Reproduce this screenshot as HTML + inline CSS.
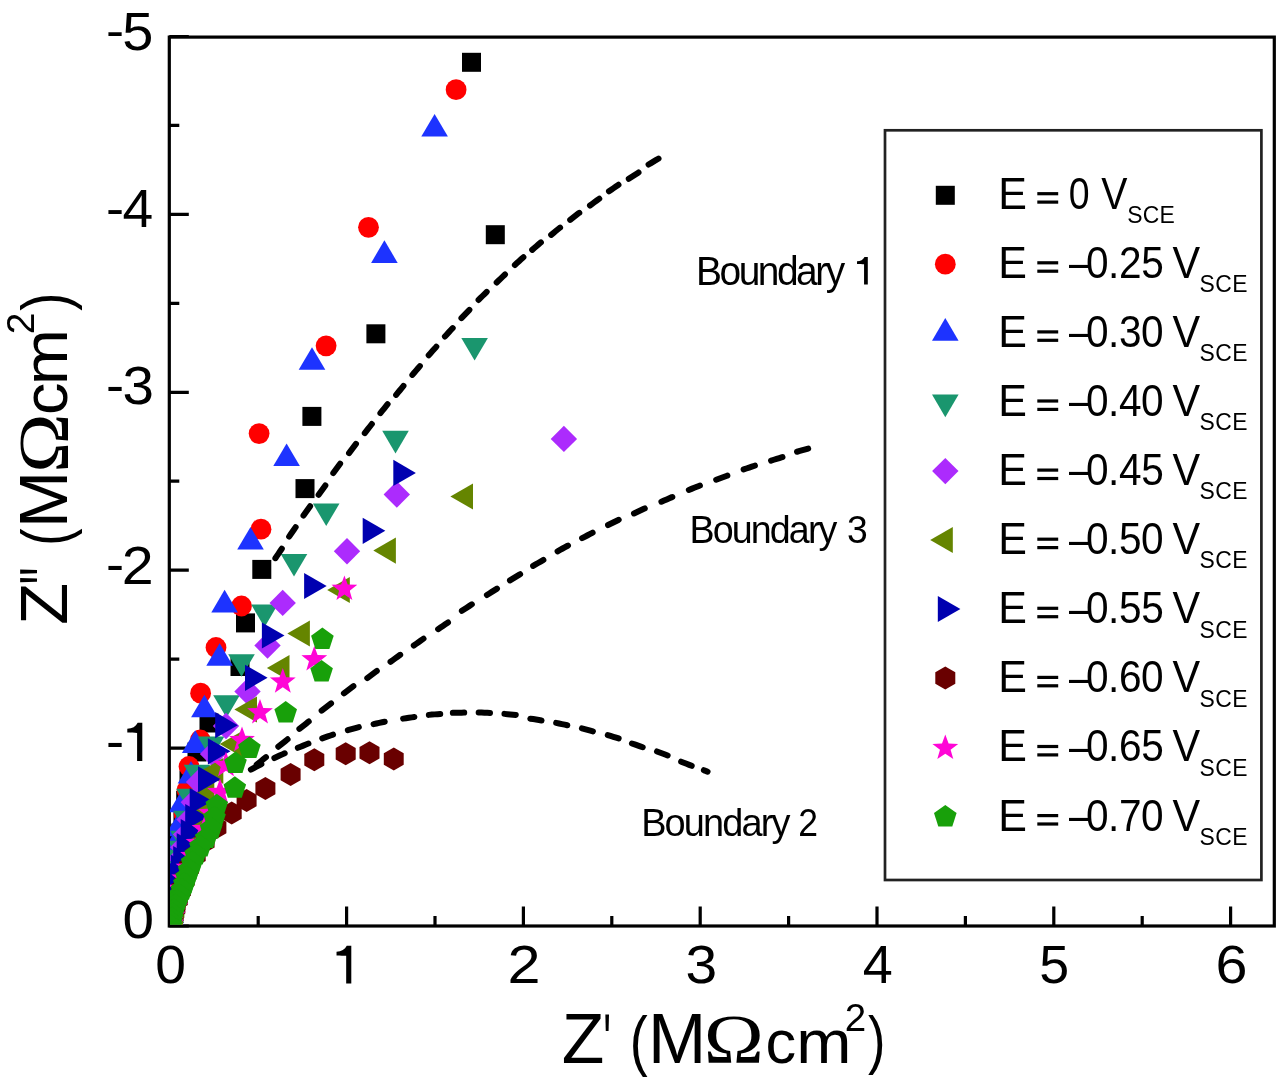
<!DOCTYPE html><html><head><meta charset="utf-8"><style>html,body{margin:0;padding:0;background:#fff;overflow:hidden;}svg{display:block;filter:blur(0.6px)}text{font-family:"Liberation Sans", sans-serif;fill:#000}</style></head><body>
<svg width="1280" height="1084" viewBox="0 0 1280 1084">
<rect width="1280" height="1084" fill="#fff"/>
<defs><clipPath id="pc"><rect x="170" y="37" width="1104" height="887.6"/></clipPath></defs>
<rect x="169.3" y="37.1" width="1105" height="888.9" fill="none" stroke="#000" stroke-width="3.2"/>
<path d="M169.8,926 V906.5 M346.6,926 V906.5 M523.4,926 V906.5 M700.2,926 V906.5 M877.0,926 V906.5 M1053.8,926 V906.5 M1230.6,926 V906.5 M258.2,926 V916.0 M435.0,926 V916.0 M611.8,926 V916.0 M788.6,926 V916.0 M965.4,926 V916.0 M1142.2,926 V916.0 M169.3,926.0 H188.8 M169.3,748.1 H188.8 M169.3,570.2 H188.8 M169.3,392.3 H188.8 M169.3,214.4 H188.8 M169.3,36.5 H188.8 M169.3,837.0 H179.3 M169.3,659.1 H179.3 M169.3,481.2 H179.3 M169.3,303.4 H179.3 M169.3,125.4 H179.3" stroke="#000" stroke-width="3.2" fill="none"/>
<g clip-path="url(#pc)">
<rect x="462.0" y="52.8" width="19.0" height="19.0" fill="#000000"/>
<rect x="485.8" y="225.2" width="19.0" height="19.0" fill="#000000"/>
<rect x="366.4" y="324.3" width="19.0" height="19.0" fill="#000000"/>
<rect x="302.4" y="406.9" width="19.0" height="19.0" fill="#000000"/>
<rect x="295.5" y="479.1" width="19.0" height="19.0" fill="#000000"/>
<rect x="252.3" y="559.9" width="19.0" height="19.0" fill="#000000"/>
<rect x="236.0" y="613.4" width="19.0" height="19.0" fill="#000000"/>
<rect x="230.5" y="657.0" width="19.0" height="19.0" fill="#000000"/>
<rect x="199.5" y="713.5" width="19.0" height="19.0" fill="#000000"/>
<rect x="187.5" y="742.5" width="19.0" height="19.0" fill="#000000"/>
<rect x="179.5" y="770.5" width="19.0" height="19.0" fill="#000000"/>
<rect x="176.2" y="790.9" width="19.0" height="19.0" fill="#000000"/>
<rect x="173.5" y="808.5" width="19.0" height="19.0" fill="#000000"/>
<rect x="171.3" y="823.6" width="19.0" height="19.0" fill="#000000"/>
<rect x="169.4" y="836.6" width="19.0" height="19.0" fill="#000000"/>
<rect x="167.9" y="847.8" width="19.0" height="19.0" fill="#000000"/>
<rect x="166.6" y="857.4" width="19.0" height="19.0" fill="#000000"/>
<rect x="165.6" y="865.7" width="19.0" height="19.0" fill="#000000"/>
<rect x="164.7" y="872.8" width="19.0" height="19.0" fill="#000000"/>
<rect x="164.0" y="878.9" width="19.0" height="19.0" fill="#000000"/>
<rect x="163.4" y="884.2" width="19.0" height="19.0" fill="#000000"/>
<rect x="162.9" y="888.7" width="19.0" height="19.0" fill="#000000"/>
<rect x="162.5" y="892.6" width="19.0" height="19.0" fill="#000000"/>
<rect x="162.1" y="895.9" width="19.0" height="19.0" fill="#000000"/>
<rect x="161.9" y="898.8" width="19.0" height="19.0" fill="#000000"/>
<rect x="161.6" y="901.3" width="19.0" height="19.0" fill="#000000"/>
<rect x="161.4" y="903.4" width="19.0" height="19.0" fill="#000000"/>
<rect x="161.3" y="905.3" width="19.0" height="19.0" fill="#000000"/>
<rect x="161.1" y="906.8" width="19.0" height="19.0" fill="#000000"/>
<rect x="161.0" y="908.2" width="19.0" height="19.0" fill="#000000"/>
<rect x="160.9" y="910.4" width="19.0" height="19.0" fill="#000000"/>
<rect x="160.7" y="912.0" width="19.0" height="19.0" fill="#000000"/>
<rect x="160.6" y="913.6" width="19.0" height="19.0" fill="#000000"/>
<rect x="160.6" y="914.9" width="19.0" height="19.0" fill="#000000"/>
<rect x="160.5" y="916.1" width="19.0" height="19.0" fill="#000000"/>
<circle cx="456.1" cy="89.7" r="10.4" fill="#ff0000"/>
<circle cx="368.5" cy="227.3" r="10.4" fill="#ff0000"/>
<circle cx="326.1" cy="345.8" r="10.4" fill="#ff0000"/>
<circle cx="259.1" cy="433.6" r="10.4" fill="#ff0000"/>
<circle cx="261.0" cy="529.2" r="10.4" fill="#ff0000"/>
<circle cx="241.5" cy="606.0" r="10.4" fill="#ff0000"/>
<circle cx="216.0" cy="647.5" r="10.4" fill="#ff0000"/>
<circle cx="200.6" cy="693.2" r="10.4" fill="#ff0000"/>
<circle cx="200.3" cy="740.0" r="10.4" fill="#ff0000"/>
<circle cx="189.0" cy="766.5" r="10.4" fill="#ff0000"/>
<circle cx="187.0" cy="790.0" r="10.4" fill="#ff0000"/>
<circle cx="184.0" cy="814.0" r="10.4" fill="#ff0000"/>
<circle cx="182.5" cy="834.0" r="10.4" fill="#ff0000"/>
<circle cx="180.5" cy="846.0" r="10.4" fill="#ff0000"/>
<circle cx="178.8" cy="856.4" r="10.4" fill="#ff0000"/>
<circle cx="177.4" cy="865.4" r="10.4" fill="#ff0000"/>
<circle cx="176.2" cy="873.3" r="10.4" fill="#ff0000"/>
<circle cx="175.2" cy="880.1" r="10.4" fill="#ff0000"/>
<circle cx="174.4" cy="886.1" r="10.4" fill="#ff0000"/>
<circle cx="173.7" cy="891.3" r="10.4" fill="#ff0000"/>
<circle cx="173.1" cy="895.8" r="10.4" fill="#ff0000"/>
<circle cx="172.6" cy="899.7" r="10.4" fill="#ff0000"/>
<circle cx="172.2" cy="903.1" r="10.4" fill="#ff0000"/>
<circle cx="171.8" cy="906.1" r="10.4" fill="#ff0000"/>
<circle cx="171.5" cy="908.7" r="10.4" fill="#ff0000"/>
<circle cx="171.3" cy="910.9" r="10.4" fill="#ff0000"/>
<circle cx="171.1" cy="912.9" r="10.4" fill="#ff0000"/>
<circle cx="170.9" cy="914.6" r="10.4" fill="#ff0000"/>
<circle cx="170.8" cy="916.1" r="10.4" fill="#ff0000"/>
<circle cx="170.6" cy="917.4" r="10.4" fill="#ff0000"/>
<circle cx="170.5" cy="919.5" r="10.4" fill="#ff0000"/>
<circle cx="170.3" cy="921.1" r="10.4" fill="#ff0000"/>
<circle cx="170.2" cy="922.3" r="10.4" fill="#ff0000"/>
<circle cx="170.1" cy="923.5" r="10.4" fill="#ff0000"/>
<circle cx="170.1" cy="924.8" r="10.4" fill="#ff0000"/>
<polygon points="434.6,113.9 447.9,136.5 421.3,136.5" fill="#1d33ff"/>
<polygon points="384.4,240.3 397.7,262.9 371.1,262.9" fill="#1d33ff"/>
<polygon points="312.0,347.2 325.3,369.8 298.7,369.8" fill="#1d33ff"/>
<polygon points="286.6,443.5 299.9,466.1 273.3,466.1" fill="#1d33ff"/>
<polygon points="250.5,527.0 263.8,549.6 237.2,549.6" fill="#1d33ff"/>
<polygon points="224.6,589.8 237.9,612.4 211.3,612.4" fill="#1d33ff"/>
<polygon points="219.6,643.2 232.9,665.8 206.3,665.8" fill="#1d33ff"/>
<polygon points="204.4,694.7 217.7,717.3 191.1,717.3" fill="#1d33ff"/>
<polygon points="195.2,730.3 208.5,752.9 181.9,752.9" fill="#1d33ff"/>
<polygon points="191.0,761.0 204.3,783.6 177.7,783.6" fill="#1d33ff"/>
<polygon points="182.0,789.7 195.3,812.3 168.7,812.3" fill="#1d33ff"/>
<polygon points="178.0,813.7 191.3,836.3 164.7,836.3" fill="#1d33ff"/>
<polygon points="176.7,827.8 190.0,850.4 163.4,850.4" fill="#1d33ff"/>
<polygon points="175.6,840.0 188.9,862.6 162.3,862.6" fill="#1d33ff"/>
<polygon points="174.6,850.5 187.9,873.1 161.3,873.1" fill="#1d33ff"/>
<polygon points="173.9,859.5 187.2,882.1 160.6,882.1" fill="#1d33ff"/>
<polygon points="173.2,867.2 186.5,889.8 159.9,889.8" fill="#1d33ff"/>
<polygon points="172.7,873.8 186.0,896.4 159.4,896.4" fill="#1d33ff"/>
<polygon points="172.3,879.6 185.6,902.2 159.0,902.2" fill="#1d33ff"/>
<polygon points="171.9,884.5 185.2,907.1 158.6,907.1" fill="#1d33ff"/>
<polygon points="171.6,888.7 184.9,911.3 158.3,911.3" fill="#1d33ff"/>
<polygon points="171.3,892.3 184.6,914.9 158.0,914.9" fill="#1d33ff"/>
<polygon points="171.1,895.5 184.4,918.1 157.8,918.1" fill="#1d33ff"/>
<polygon points="170.9,898.2 184.2,920.8 157.6,920.8" fill="#1d33ff"/>
<polygon points="170.8,900.5 184.1,923.1 157.5,923.1" fill="#1d33ff"/>
<polygon points="170.6,902.5 183.9,925.1 157.3,925.1" fill="#1d33ff"/>
<polygon points="170.5,904.2 183.8,926.8 157.2,926.8" fill="#1d33ff"/>
<polygon points="170.4,905.7 183.7,928.3 157.1,928.3" fill="#1d33ff"/>
<polygon points="170.4,906.9 183.7,929.5 157.1,929.5" fill="#1d33ff"/>
<polygon points="170.3,908.9 183.6,931.5 157.0,931.5" fill="#1d33ff"/>
<polygon points="170.2,910.4 183.5,933.0 156.9,933.0" fill="#1d33ff"/>
<polygon points="170.1,912.0 183.4,934.6 156.8,934.6" fill="#1d33ff"/>
<polygon points="170.1,913.2 183.4,935.8 156.8,935.8" fill="#1d33ff"/>
<polygon points="170.0,914.5 183.3,937.1 156.7,937.1" fill="#1d33ff"/>
<polygon points="474.6,360.6 487.9,338.0 461.3,338.0" fill="#1a966e"/>
<polygon points="395.5,453.4 408.8,430.8 382.2,430.8" fill="#1a966e"/>
<polygon points="326.2,526.1 339.5,503.5 312.9,503.5" fill="#1a966e"/>
<polygon points="294.0,576.5 307.3,553.9 280.7,553.9" fill="#1a966e"/>
<polygon points="264.5,627.2 277.8,604.6 251.2,604.6" fill="#1a966e"/>
<polygon points="241.5,676.8 254.8,654.2 228.2,654.2" fill="#1a966e"/>
<polygon points="226.5,717.8 239.8,695.2 213.2,695.2" fill="#1a966e"/>
<polygon points="211.0,759.2 224.3,736.6 197.7,736.6" fill="#1a966e"/>
<polygon points="197.0,787.3 210.3,764.7 183.7,764.7" fill="#1a966e"/>
<polygon points="189.5,811.3 202.8,788.7 176.2,788.7" fill="#1a966e"/>
<polygon points="186.5,833.3 199.8,810.7 173.2,810.7" fill="#1a966e"/>
<polygon points="183.5,853.3 196.8,830.7 170.2,830.7" fill="#1a966e"/>
<polygon points="181.4,863.4 194.7,840.8 168.1,840.8" fill="#1a966e"/>
<polygon points="179.7,872.3 193.0,849.7 166.4,849.7" fill="#1a966e"/>
<polygon points="178.2,880.1 191.5,857.5 164.9,857.5" fill="#1a966e"/>
<polygon points="176.9,886.9 190.2,864.3 163.6,864.3" fill="#1a966e"/>
<polygon points="175.9,893.0 189.2,870.4 162.6,870.4" fill="#1a966e"/>
<polygon points="175.0,898.3 188.3,875.7 161.7,875.7" fill="#1a966e"/>
<polygon points="174.2,903.0 187.5,880.4 160.9,880.4" fill="#1a966e"/>
<polygon points="173.6,907.1 186.9,884.5 160.3,884.5" fill="#1a966e"/>
<polygon points="173.0,910.7 186.3,888.1 159.7,888.1" fill="#1a966e"/>
<polygon points="172.6,913.9 185.9,891.3 159.3,891.3" fill="#1a966e"/>
<polygon points="172.2,916.7 185.5,894.1 158.9,894.1" fill="#1a966e"/>
<polygon points="171.8,919.2 185.1,896.6 158.5,896.6" fill="#1a966e"/>
<polygon points="171.6,921.4 184.9,898.8 158.3,898.8" fill="#1a966e"/>
<polygon points="171.3,923.3 184.6,900.7 158.0,900.7" fill="#1a966e"/>
<polygon points="171.1,925.0 184.4,902.4 157.8,902.4" fill="#1a966e"/>
<polygon points="170.9,926.4 184.2,903.8 157.6,903.8" fill="#1a966e"/>
<polygon points="170.8,927.7 184.1,905.1 157.5,905.1" fill="#1a966e"/>
<polygon points="170.6,929.9 183.9,907.3 157.3,907.3" fill="#1a966e"/>
<polygon points="170.4,931.6 183.7,909.0 157.1,909.0" fill="#1a966e"/>
<polygon points="170.3,932.9 183.6,910.3 157.0,910.3" fill="#1a966e"/>
<polygon points="170.2,934.3 183.5,911.7 156.9,911.7" fill="#1a966e"/>
<polygon points="170.1,935.5 183.4,912.9 156.8,912.9" fill="#1a966e"/>
<polygon points="170.0,936.7 183.3,914.1 156.7,914.1" fill="#1a966e"/>
<polygon points="563.9,425.7 577.1,438.9 563.9,452.1 550.7,438.9" fill="#ac2bfd"/>
<polygon points="396.8,481.3 410.0,494.5 396.8,507.7 383.6,494.5" fill="#ac2bfd"/>
<polygon points="347.0,538.1 360.2,551.3 347.0,564.5 333.8,551.3" fill="#ac2bfd"/>
<polygon points="282.7,589.7 295.9,602.9 282.7,616.1 269.5,602.9" fill="#ac2bfd"/>
<polygon points="267.5,632.3 280.7,645.5 267.5,658.7 254.3,645.5" fill="#ac2bfd"/>
<polygon points="247.5,678.3 260.7,691.5 247.5,704.7 234.3,691.5" fill="#ac2bfd"/>
<polygon points="226.0,712.8 239.2,726.0 226.0,739.2 212.8,726.0" fill="#ac2bfd"/>
<polygon points="213.0,740.8 226.2,754.0 213.0,767.2 199.8,754.0" fill="#ac2bfd"/>
<polygon points="199.0,768.8 212.2,782.0 199.0,795.2 185.8,782.0" fill="#ac2bfd"/>
<polygon points="193.8,789.0 207.0,802.2 193.8,815.4 180.6,802.2" fill="#ac2bfd"/>
<polygon points="189.6,806.3 202.8,819.5 189.6,832.7 176.4,819.5" fill="#ac2bfd"/>
<polygon points="186.1,821.2 199.3,834.4 186.1,847.6 172.9,834.4" fill="#ac2bfd"/>
<polygon points="183.2,834.0 196.4,847.2 183.2,860.4 170.0,847.2" fill="#ac2bfd"/>
<polygon points="180.9,845.1 194.1,858.3 180.9,871.5 167.7,858.3" fill="#ac2bfd"/>
<polygon points="178.9,854.5 192.1,867.7 178.9,880.9 165.7,867.7" fill="#ac2bfd"/>
<polygon points="177.4,862.7 190.6,875.9 177.4,889.1 164.2,875.9" fill="#ac2bfd"/>
<polygon points="176.0,869.7 189.2,882.9 176.0,896.1 162.8,882.9" fill="#ac2bfd"/>
<polygon points="175.0,875.7 188.2,888.9 175.0,902.1 161.8,888.9" fill="#ac2bfd"/>
<polygon points="174.1,880.9 187.3,894.1 174.1,907.3 160.9,894.1" fill="#ac2bfd"/>
<polygon points="173.4,885.4 186.6,898.6 173.4,911.8 160.2,898.6" fill="#ac2bfd"/>
<polygon points="172.8,889.2 186.0,902.4 172.8,915.6 159.6,902.4" fill="#ac2bfd"/>
<polygon points="172.3,892.5 185.5,905.7 172.3,918.9 159.1,905.7" fill="#ac2bfd"/>
<polygon points="171.9,895.4 185.1,908.6 171.9,921.8 158.7,908.6" fill="#ac2bfd"/>
<polygon points="171.5,897.8 184.7,911.0 171.5,924.2 158.3,911.0" fill="#ac2bfd"/>
<polygon points="171.3,899.9 184.5,913.1 171.3,926.3 158.1,913.1" fill="#ac2bfd"/>
<polygon points="171.0,901.7 184.2,914.9 171.0,928.1 157.8,914.9" fill="#ac2bfd"/>
<polygon points="170.9,903.3 184.1,916.5 170.9,929.7 157.7,916.5" fill="#ac2bfd"/>
<polygon points="170.7,904.6 183.9,917.8 170.7,931.0 157.5,917.8" fill="#ac2bfd"/>
<polygon points="170.5,906.7 183.7,919.9 170.5,933.1 157.3,919.9" fill="#ac2bfd"/>
<polygon points="170.3,908.3 183.5,921.5 170.3,934.7 157.1,921.5" fill="#ac2bfd"/>
<polygon points="170.2,909.9 183.4,923.1 170.2,936.3 157.0,923.1" fill="#ac2bfd"/>
<polygon points="170.1,911.2 183.3,924.4 170.1,937.6 156.9,924.4" fill="#ac2bfd"/>
<polygon points="170.0,912.5 183.2,925.7 170.0,938.9 156.8,925.7" fill="#ac2bfd"/>
<polygon points="450.4,496.5 473.0,483.4 473.0,509.6" fill="#658500"/>
<polygon points="373.3,550.6 395.9,537.5 395.9,563.7" fill="#658500"/>
<polygon points="327.2,590.0 349.8,576.9 349.8,603.1" fill="#658500"/>
<polygon points="287.3,633.5 309.9,620.4 309.9,646.6" fill="#658500"/>
<polygon points="266.9,668.0 289.5,654.9 289.5,681.1" fill="#658500"/>
<polygon points="234.4,709.5 257.0,696.4 257.0,722.6" fill="#658500"/>
<polygon points="219.7,744.0 242.3,730.9 242.3,757.1" fill="#658500"/>
<polygon points="200.7,771.0 223.3,757.9 223.3,784.1" fill="#658500"/>
<polygon points="191.7,795.0 214.3,781.9 214.3,808.1" fill="#658500"/>
<polygon points="185.8,813.3 208.4,800.2 208.4,826.4" fill="#658500"/>
<polygon points="181.0,829.1 203.6,816.0 203.6,842.2" fill="#658500"/>
<polygon points="177.0,842.7 199.6,829.6 199.6,855.8" fill="#658500"/>
<polygon points="173.8,854.3 196.4,841.2 196.4,867.4" fill="#658500"/>
<polygon points="171.1,864.4 193.7,851.3 193.7,877.5" fill="#658500"/>
<polygon points="168.9,873.0 191.5,859.9 191.5,886.1" fill="#658500"/>
<polygon points="167.1,880.4 189.7,867.3 189.7,893.5" fill="#658500"/>
<polygon points="165.6,886.8 188.2,873.7 188.2,899.9" fill="#658500"/>
<polygon points="164.4,892.3 187.0,879.2 187.0,905.4" fill="#658500"/>
<polygon points="163.3,897.0 185.9,883.9 185.9,910.1" fill="#658500"/>
<polygon points="162.5,901.1 185.1,888.0 185.1,914.2" fill="#658500"/>
<polygon points="161.8,904.6 184.4,891.5 184.4,917.7" fill="#658500"/>
<polygon points="161.3,907.6 183.9,894.5 183.9,920.7" fill="#658500"/>
<polygon points="160.8,910.1 183.4,897.0 183.4,923.2" fill="#658500"/>
<polygon points="160.4,912.4 183.0,899.3 183.0,925.5" fill="#658500"/>
<polygon points="160.1,914.3 182.7,901.2 182.7,927.4" fill="#658500"/>
<polygon points="159.9,915.9 182.5,902.8 182.5,929.0" fill="#658500"/>
<polygon points="159.7,917.3 182.3,904.2 182.3,930.4" fill="#658500"/>
<polygon points="159.5,918.5 182.1,905.4 182.1,931.6" fill="#658500"/>
<polygon points="159.2,920.5 181.8,907.4 181.8,933.6" fill="#658500"/>
<polygon points="159.1,921.9 181.7,908.8 181.7,935.0" fill="#658500"/>
<polygon points="158.9,923.4 181.5,910.3 181.5,936.5" fill="#658500"/>
<polygon points="158.8,924.8 181.4,911.7 181.4,937.9" fill="#658500"/>
<polygon points="415.9,472.9 393.3,459.8 393.3,486.0" fill="#0000b0"/>
<polygon points="385.3,530.8 362.7,517.7 362.7,543.9" fill="#0000b0"/>
<polygon points="326.7,586.0 304.1,572.9 304.1,599.1" fill="#0000b0"/>
<polygon points="284.5,635.5 261.9,622.4 261.9,648.6" fill="#0000b0"/>
<polygon points="267.6,677.8 245.0,664.7 245.0,690.9" fill="#0000b0"/>
<polygon points="237.8,725.2 215.2,712.1 215.2,738.3" fill="#0000b0"/>
<polygon points="230.5,751.3 207.9,738.2 207.9,764.4" fill="#0000b0"/>
<polygon points="220.6,779.3 198.0,766.2 198.0,792.4" fill="#0000b0"/>
<polygon points="212.3,801.0 189.7,787.9 189.7,814.1" fill="#0000b0"/>
<polygon points="207.8,817.0 185.2,803.9 185.2,830.1" fill="#0000b0"/>
<polygon points="203.3,832.0 180.7,818.9 180.7,845.1" fill="#0000b0"/>
<polygon points="199.3,846.0 176.7,832.9 176.7,859.1" fill="#0000b0"/>
<polygon points="195.8,859.0 173.2,845.9 173.2,872.1" fill="#0000b0"/>
<polygon points="193.4,867.7 170.8,854.6 170.8,880.8" fill="#0000b0"/>
<polygon points="191.4,875.3 168.8,862.2 168.8,888.4" fill="#0000b0"/>
<polygon points="189.7,881.9 167.1,868.8 167.1,895.0" fill="#0000b0"/>
<polygon points="188.3,887.6 165.7,874.5 165.7,900.7" fill="#0000b0"/>
<polygon points="187.2,892.6 164.6,879.5 164.6,905.7" fill="#0000b0"/>
<polygon points="186.2,896.9 163.6,883.8 163.6,910.0" fill="#0000b0"/>
<polygon points="185.4,900.7 162.8,887.6 162.8,913.8" fill="#0000b0"/>
<polygon points="184.7,904.0 162.1,890.9 162.1,917.1" fill="#0000b0"/>
<polygon points="184.1,906.9 161.5,893.8 161.5,920.0" fill="#0000b0"/>
<polygon points="183.7,909.4 161.1,896.3 161.1,922.5" fill="#0000b0"/>
<polygon points="183.3,911.5 160.7,898.4 160.7,924.6" fill="#0000b0"/>
<polygon points="183.0,913.4 160.4,900.3 160.4,926.5" fill="#0000b0"/>
<polygon points="182.7,915.0 160.1,901.9 160.1,928.1" fill="#0000b0"/>
<polygon points="182.4,916.5 159.8,903.4 159.8,929.6" fill="#0000b0"/>
<polygon points="182.3,917.7 159.7,904.6 159.7,930.8" fill="#0000b0"/>
<polygon points="182.0,919.7 159.4,906.6 159.4,932.8" fill="#0000b0"/>
<polygon points="181.8,921.2 159.2,908.1 159.2,934.3" fill="#0000b0"/>
<polygon points="181.6,922.9 159.0,909.8 159.0,936.0" fill="#0000b0"/>
<polygon points="181.4,924.2 158.8,911.1 158.8,937.3" fill="#0000b0"/>
<polygon points="181.3,925.4 158.7,912.3 158.7,938.5" fill="#0000b0"/>
<polygon points="393.8,747.5 403.7,753.2 403.7,764.8 393.8,770.5 383.8,764.8 383.8,753.2" fill="#690000"/>
<polygon points="369.5,741.3 379.5,747.0 379.5,758.5 369.5,764.3 359.5,758.5 359.5,747.0" fill="#690000"/>
<polygon points="345.7,742.2 355.7,748.0 355.7,759.5 345.7,765.2 335.7,759.5 335.7,748.0" fill="#690000"/>
<polygon points="314.3,748.3 324.3,754.0 324.3,765.5 314.3,771.3 304.3,765.5 304.3,754.0" fill="#690000"/>
<polygon points="290.6,763.0 300.6,768.8 300.6,780.2 290.6,786.0 280.6,780.2 280.6,768.8" fill="#690000"/>
<polygon points="265.4,777.0 275.4,782.8 275.4,794.2 265.4,800.0 255.4,794.2 255.4,782.8" fill="#690000"/>
<polygon points="246.6,789.0 256.6,794.8 256.6,806.2 246.6,812.0 236.6,806.2 236.6,794.8" fill="#690000"/>
<polygon points="231.7,801.5 241.7,807.2 241.7,818.8 231.7,824.5 221.7,818.8 221.7,807.2" fill="#690000"/>
<polygon points="216.4,815.9 226.4,821.7 226.4,833.2 216.4,838.9 206.5,833.2 206.5,821.7" fill="#690000"/>
<polygon points="204.6,830.1 214.6,835.9 214.6,847.4 204.6,853.1 194.7,847.4 194.7,835.9" fill="#690000"/>
<polygon points="195.7,843.7 205.7,849.5 205.7,861.0 195.7,866.7 185.7,861.0 185.7,849.5" fill="#690000"/>
<polygon points="189.0,856.3 198.9,862.1 198.9,873.6 189.0,879.3 179.0,873.6 179.0,862.1" fill="#690000"/>
<polygon points="184.7,868.1 194.7,873.9 194.7,885.4 184.7,891.1 174.7,885.4 174.7,873.9" fill="#690000"/>
<polygon points="181.0,878.6 190.9,884.3 190.9,895.8 181.0,901.6 171.0,895.8 171.0,884.3" fill="#690000"/>
<polygon points="177.9,887.8 187.8,893.6 187.8,905.1 177.9,910.8 167.9,905.1 167.9,893.6" fill="#690000"/>
<polygon points="175.3,896.0 185.3,901.8 185.3,913.3 175.3,919.0 165.4,913.3 165.4,901.8" fill="#690000"/>
<polygon points="173.4,903.3 183.3,909.1 183.3,920.6 173.4,926.3 163.4,920.6 163.4,909.1" fill="#690000"/>
<polygon points="344.4,575.4 347.7,584.5 357.3,584.8 349.7,590.7 352.4,600.0 344.4,594.6 336.4,600.0 339.1,590.7 331.5,584.8 341.1,584.5" fill="#ff05d6"/>
<polygon points="314.3,645.9 317.6,655.0 327.2,655.3 319.6,661.2 322.3,670.5 314.3,665.1 306.3,670.5 309.0,661.2 301.4,655.3 311.0,655.0" fill="#ff05d6"/>
<polygon points="282.8,668.1 286.1,677.2 295.7,677.5 288.1,683.4 290.8,692.7 282.8,687.3 274.8,692.7 277.5,683.4 269.9,677.5 279.5,677.2" fill="#ff05d6"/>
<polygon points="260.0,698.9 263.3,708.0 272.9,708.3 265.3,714.2 268.0,723.5 260.0,718.1 252.0,723.5 254.7,714.2 247.1,708.3 256.7,708.0" fill="#ff05d6"/>
<polygon points="242.0,726.6 245.3,735.7 254.9,736.0 247.3,741.9 250.0,751.2 242.0,745.8 234.0,751.2 236.7,741.9 229.1,736.0 238.7,735.7" fill="#ff05d6"/>
<polygon points="226.0,751.6 229.3,760.7 238.9,761.0 231.3,766.9 234.0,776.2 226.0,770.8 218.0,776.2 220.7,766.9 213.1,761.0 222.7,760.7" fill="#ff05d6"/>
<polygon points="220.0,778.6 223.3,787.7 232.9,788.0 225.3,793.9 228.0,803.2 220.0,797.8 212.0,803.2 214.7,793.9 207.1,788.0 216.7,787.7" fill="#ff05d6"/>
<polygon points="211.0,799.6 214.3,808.7 223.9,809.0 216.3,814.9 219.0,824.2 211.0,818.8 203.0,824.2 205.7,814.9 198.1,809.0 207.7,808.7" fill="#ff05d6"/>
<polygon points="204.5,815.6 207.8,824.7 217.4,825.0 209.8,830.9 212.5,840.2 204.5,834.8 196.5,840.2 199.2,830.9 191.6,825.0 201.2,824.7" fill="#ff05d6"/>
<polygon points="198.5,829.6 201.8,838.7 211.4,839.0 203.8,844.9 206.5,854.2 198.5,848.8 190.5,854.2 193.2,844.9 185.6,839.0 195.2,838.7" fill="#ff05d6"/>
<polygon points="193.0,842.6 196.3,851.7 205.9,852.0 198.3,857.9 201.0,867.2 193.0,861.8 185.0,867.2 187.7,857.9 180.1,852.0 189.7,851.7" fill="#ff05d6"/>
<polygon points="188.5,854.3 191.8,863.3 201.4,863.7 193.8,869.6 196.5,878.9 188.5,873.5 180.5,878.9 183.2,869.6 175.6,863.7 185.2,863.3" fill="#ff05d6"/>
<polygon points="184.3,865.1 187.6,874.2 197.3,874.5 189.7,880.4 192.3,889.7 184.3,884.3 176.3,889.7 179.0,880.4 171.4,874.5 181.0,874.2" fill="#ff05d6"/>
<polygon points="180.8,875.3 184.1,884.4 193.7,884.7 186.1,890.6 188.8,899.9 180.8,894.5 172.8,899.9 175.4,890.6 167.8,884.7 177.5,884.4" fill="#ff05d6"/>
<polygon points="177.7,884.9 181.0,894.0 190.7,894.3 183.1,900.2 185.7,909.5 177.7,904.1 169.8,909.5 172.4,900.2 164.8,894.3 174.5,894.0" fill="#ff05d6"/>
<polygon points="175.1,893.9 178.4,903.0 188.1,903.3 180.5,909.2 183.1,918.5 175.1,913.1 167.2,918.5 169.8,909.2 162.2,903.3 171.9,903.0" fill="#ff05d6"/>
<polygon points="172.9,902.3 176.2,911.3 185.8,911.7 178.2,917.6 180.9,926.9 172.9,921.5 164.9,926.9 167.5,917.6 159.9,911.7 169.6,911.3" fill="#ff05d6"/>
<polygon points="171.3,910.2 174.6,919.3 184.2,919.6 176.6,925.5 179.3,934.8 171.3,929.4 163.3,934.8 165.9,925.5 158.3,919.6 168.0,919.3" fill="#ff05d6"/>
<polygon points="322.4,627.5 333.7,635.7 329.4,649.0 315.4,649.0 311.1,635.7" fill="#18a00a"/>
<polygon points="321.6,660.1 332.9,668.3 328.6,681.6 314.6,681.6 310.3,668.3" fill="#18a00a"/>
<polygon points="285.7,701.0 297.0,709.2 292.7,722.5 278.7,722.5 274.4,709.2" fill="#18a00a"/>
<polygon points="249.4,736.5 260.7,744.7 256.4,758.0 242.4,758.0 238.1,744.7" fill="#18a00a"/>
<polygon points="235.5,751.5 246.8,759.7 242.5,773.0 228.5,773.0 224.2,759.7" fill="#18a00a"/>
<polygon points="234.8,776.2 246.1,784.4 241.8,797.7 227.8,797.7 223.5,784.4" fill="#18a00a"/>
<polygon points="216.8,793.7 228.1,801.9 223.8,815.2 209.8,815.2 205.5,801.9" fill="#18a00a"/>
<polygon points="214.5,806.0 225.8,814.2 221.5,827.5 207.5,827.5 203.2,814.2" fill="#18a00a"/>
<polygon points="211.2,817.1 222.5,825.3 218.2,838.6 204.2,838.6 199.8,825.3" fill="#18a00a"/>
<polygon points="206.2,826.6 217.5,834.8 213.2,848.1 199.2,848.1 194.9,834.8" fill="#18a00a"/>
<polygon points="200.5,834.9 211.8,843.1 207.5,856.4 193.5,856.4 189.2,843.1" fill="#18a00a"/>
<polygon points="195.7,842.9 207.0,851.1 202.7,864.4 188.7,864.4 184.4,851.1" fill="#18a00a"/>
<polygon points="192.2,850.8 203.5,859.0 199.1,872.3 185.2,872.3 180.8,859.0" fill="#18a00a"/>
<polygon points="189.2,858.4 200.6,866.6 196.2,879.9 182.3,879.9 177.9,866.6" fill="#18a00a"/>
<polygon points="186.7,865.4 198.0,873.7 193.7,887.0 179.7,887.0 175.4,873.7" fill="#18a00a"/>
<polygon points="184.4,872.0 195.7,880.3 191.4,893.6 177.4,893.6 173.1,880.3" fill="#18a00a"/>
<polygon points="182.0,878.1 193.4,886.3 189.0,899.6 175.0,899.6 170.7,886.3" fill="#18a00a"/>
<polygon points="179.5,883.6 190.8,891.8 186.5,905.1 172.5,905.1 168.2,891.8" fill="#18a00a"/>
<polygon points="177.1,888.7 188.5,896.9 184.1,910.2 170.1,910.2 165.8,896.9" fill="#18a00a"/>
<polygon points="175.5,893.6 186.8,901.9 182.4,915.2 168.5,915.2 164.1,901.9" fill="#18a00a"/>
<polygon points="173.9,898.3 185.2,906.5 180.9,919.8 166.9,919.8 162.6,906.5" fill="#18a00a"/>
<polygon points="172.7,902.6 184.0,910.8 179.7,924.1 165.7,924.1 161.4,910.8" fill="#18a00a"/>
<polygon points="172.0,906.8 183.3,915.0 179.0,928.3 165.0,928.3 160.7,915.0" fill="#18a00a"/>
<polygon points="171.3,910.6 182.6,918.8 178.3,932.1 164.3,932.1 160.0,918.8" fill="#18a00a"/>
<polygon points="170.6,914.2 182.0,922.4 177.6,935.7 163.6,935.7 159.3,922.4" fill="#18a00a"/>
</g>
<path d="M275.39,558.21 L276.94,555.91 L278.50,553.60 L280.06,551.30 L281.62,548.99 L281.80,548.73 M289.14,536.60 L290.72,534.30 L292.30,532.00 L293.88,529.70 L295.47,527.40 L295.64,527.15 M303.49,515.58 L305.10,513.29 L306.70,511.00 L308.31,508.71 L309.92,506.42 L310.10,506.17 M318.64,494.76 L320.27,492.48 L321.90,490.20 L323.53,487.92 L325.17,485.65 L325.35,485.40 M333.29,473.02 L334.94,470.76 L336.60,468.50 L338.26,466.24 L339.92,463.98 L340.11,463.73 M349.03,453.09 L350.71,450.84 L352.40,448.60 L354.09,446.36 L355.78,444.12 L355.97,443.87 M364.77,433.14 L366.48,430.92 L368.20,428.70 L369.92,426.48 L371.65,424.27 L371.84,424.02 M380.40,413.19 L382.15,410.99 L383.90,408.80 L385.65,406.61 L387.41,404.42 L387.61,404.18 M396.14,394.84 L397.92,392.67 L399.70,390.50 L401.49,388.34 L403.28,386.18 L403.47,385.94 M412.37,374.87 L414.18,372.73 L416.00,370.60 L417.82,368.47 L419.65,366.34 L419.85,366.11 M428.69,355.30 L430.54,353.20 L432.40,351.10 L434.26,349.01 L436.13,346.92 L436.33,346.68 M444.91,336.53 L446.80,334.46 L448.70,332.40 L450.60,330.34 L452.50,328.29 L452.72,328.06 M461.43,318.15 L463.36,316.12 L465.30,314.10 L467.24,312.08 L469.18,310.07 L469.40,309.85 M478.55,299.96 L480.52,297.98 L482.50,296.00 L484.48,294.03 L486.47,292.06 L486.69,291.84 M496.66,282.46 L498.68,280.53 L500.70,278.60 L502.73,276.68 L504.76,274.76 L504.99,274.55 M514.87,264.96 L516.93,263.08 L519.00,261.20 L521.07,259.33 L523.15,257.46 L523.39,257.26 M532.18,249.86 L534.29,248.03 L536.40,246.20 L538.52,244.38 L540.64,242.56 L540.88,242.36 M551.18,234.85 L553.34,233.07 L555.50,231.30 L557.67,229.53 L559.84,227.77 L560.08,227.58 M570.19,219.84 L572.39,218.12 L574.60,216.40 L576.82,214.69 L579.04,212.99 L579.28,212.80 M589.98,205.51 L592.24,203.85 L594.50,202.20 L596.77,200.55 L599.04,198.92 L599.29,198.73 M608.98,191.29 L611.29,189.69 L613.60,188.10 L615.92,186.52 L618.24,184.94 L618.50,184.77 M628.78,178.76 L631.13,177.23 L633.50,175.70 L635.87,174.18 L638.25,172.67 L638.51,172.50 M648.56,164.52 L650.98,163.06 L653.40,161.60 L655.83,160.15 L658.26,158.71 L658.53,158.55" fill="none" stroke="#000" stroke-width="6.0" stroke-linecap="round" stroke-linejoin="round"/>
<path d="M256.73,764.62 L258.97,762.81 L261.20,761.00 L263.43,759.19 L265.67,757.39 L265.95,757.16 M278.31,746.70 L280.55,744.90 L282.80,743.10 L285.05,741.30 L287.30,739.51 L287.58,739.28 M299.38,728.87 L301.64,727.09 L303.90,725.30 L306.16,723.52 L308.43,721.73 L308.71,721.51 M321.65,710.64 L323.92,708.87 L326.20,707.10 L328.48,705.33 L330.76,703.57 L331.05,703.35 M343.91,693.30 L346.20,691.55 L348.50,689.80 L350.80,688.06 L353.10,686.31 L353.39,686.10 M367.27,678.05 L369.58,676.32 L371.90,674.60 L374.22,672.88 L376.54,671.16 L376.83,670.95 M390.53,661.79 L392.86,660.09 L395.20,658.40 L397.54,656.71 L399.88,655.02 L400.18,654.81 M413.78,645.53 L416.14,643.86 L418.50,642.20 L420.86,640.54 L423.23,638.89 L423.52,638.68 M438.13,629.15 L440.51,627.52 L442.90,625.90 L445.29,624.28 L447.68,622.66 L447.98,622.46 M461.88,610.87 L464.29,609.28 L466.70,607.70 L469.12,606.12 L471.53,604.55 L471.84,604.35 M486.92,594.98 L489.36,593.44 L491.80,591.90 L494.24,590.37 L496.69,588.84 L496.99,588.65 M509.97,580.39 L512.43,578.89 L514.90,577.40 L517.37,575.91 L519.84,574.43 L520.15,574.25 M533.11,565.89 L535.61,564.44 L538.10,563.00 L540.60,561.56 L543.10,560.13 L543.41,559.95 M557.56,551.29 L560.08,549.89 L562.60,548.50 L565.13,547.11 L567.65,545.74 L567.97,545.56 M582.10,538.18 L584.65,536.84 L587.20,535.50 L589.75,534.17 L592.31,532.85 L592.63,532.68 M608.04,525.06 L610.62,523.78 L613.20,522.50 L615.79,521.23 L618.37,519.97 L618.70,519.81 M633.98,513.43 L636.59,512.21 L639.20,511.00 L641.82,509.79 L644.43,508.59 L644.76,508.44 M661.42,501.70 L664.06,500.55 L666.70,499.40 L669.35,498.26 L672.00,497.13 L672.33,496.99 M688.85,489.95 L691.52,488.87 L694.20,487.80 L696.88,486.73 L699.56,485.67 L699.90,485.54 M716.19,479.71 L718.89,478.70 L721.60,477.70 L724.31,476.71 L727.02,475.72 L727.36,475.60 M743.63,469.46 L746.36,468.53 L749.10,467.60 L751.84,466.68 L754.58,465.77 L754.93,465.66 M771.07,460.61 L773.83,459.75 L776.60,458.90 L779.37,458.06 L782.14,457.23 L782.49,457.12 M797.01,451.75 L799.81,450.97 L802.60,450.20 L805.40,449.43 L808.20,448.68 L808.20,448.68" fill="none" stroke="#000" stroke-width="6.0" stroke-linecap="round" stroke-linejoin="round"/>
<path d="M250.88,769.58 L253.44,768.23 L256.00,766.90 L258.57,765.58 L261.15,764.27 L261.39,764.15 M274.37,758.04 L277.00,756.81 L279.64,755.59 L282.29,754.38 L284.70,753.30 M297.84,747.80 L300.54,746.69 L303.25,745.60 L305.96,744.53 L308.43,743.56 M322.23,738.33 L324.99,737.36 L327.75,736.41 L330.52,735.48 L333.04,734.65 M347.83,730.22 L350.64,729.42 L353.46,728.63 L356.27,727.86 L358.84,727.18 M373.56,724.10 L376.41,723.46 L379.26,722.84 L382.12,722.25 L384.72,721.72 M403.10,718.61 L405.98,718.18 L408.86,717.76 L411.75,717.37 L414.38,717.02 M428.86,714.87 L431.76,714.61 L434.66,714.38 L437.57,714.16 L440.21,713.99 M452.85,712.85 L455.76,712.76 L458.66,712.69 L461.57,712.65 L464.21,712.62 M478.65,712.51 L481.56,712.60 L484.46,712.71 L487.37,712.84 L490.01,712.97 M504.47,713.88 L507.37,714.14 L510.26,714.43 L513.16,714.73 L515.78,715.02 M530.31,718.66 L533.19,719.09 L536.06,719.54 L538.93,720.01 L541.54,720.45 M556.15,722.87 L559.01,723.45 L561.86,724.06 L564.71,724.68 L567.29,725.25 M581.91,728.39 L584.74,729.12 L587.56,729.87 L590.37,730.63 L592.93,731.33 M607.77,735.06 L610.56,735.91 L613.35,736.78 L616.14,737.66 L618.67,738.46 M631.93,743.48 L634.69,744.43 L637.45,745.39 L640.21,746.35 L642.71,747.24 M656.99,751.45 L659.72,752.47 L662.45,753.49 L665.17,754.53 L667.65,755.47 M681.14,761.67 L683.84,762.73 L686.55,763.80 L689.25,764.86 L691.70,765.83 M703.89,770.22 L704.87,770.61 L705.84,771.00 L706.82,771.38 L707.56,771.67" fill="none" stroke="#000" stroke-width="6.0" stroke-linecap="round" stroke-linejoin="round"/>
<text transform="matrix(0.54286 0 0 0.47436 105.91 47.47)" style='font-family:"Liberation Sans"' font-size="100" >-</text>
<text transform="matrix(0.55907 0 0 0.54506 122.36 49.85)" style='font-family:"Liberation Sans"' font-size="100" >5</text>
<text transform="matrix(0.54286 0 0 0.50000 105.91 225.15)" style='font-family:"Liberation Sans"' font-size="100" >-</text>
<text transform="matrix(0.55159 0 0 0.54506 122.43 227.10)" style='font-family:"Liberation Sans"' font-size="100" >4</text>
<text transform="matrix(0.54286 0 0 0.51282 105.91 403.04)" style='font-family:"Liberation Sans"' font-size="100" >-</text>
<text transform="matrix(0.56540 0 0 0.54506 122.45 403.95)" style='font-family:"Liberation Sans"' font-size="100" >3</text>
<text transform="matrix(0.54286 0 0 0.51282 105.91 581.74)" style='font-family:"Liberation Sans"' font-size="100" >-</text>
<text transform="matrix(0.57346 0 0 0.54506 121.73 584.20)" style='font-family:"Liberation Sans"' font-size="100" >2</text>
<text transform="matrix(0.54286 0 0 0.51282 105.91 758.64)" style='font-family:"Liberation Sans"' font-size="100" >-</text>
<path d="M142.30,761.10 l-5.20,0 l0,-28.20 c-2.80,-0.20 -5.80,-0.30 -9.80,-0.40 l0,-3.70 c5.00,-0.20 8.50,-2.20 10.40,-6.10 l4.60,0 z" fill="#000" />
<text transform="matrix(0.56695 0 0 0.54506 122.49 937.55)" style='font-family:"Liberation Sans"' font-size="100" >0</text>
<text transform="matrix(0.55230 0 0 0.54506 155.35 983.40)" style='font-family:"Liberation Sans"' font-size="100" >0</text>
<text transform="matrix(0.59430 0 0 0.54506 507.53 983.40)" style='font-family:"Liberation Sans"' font-size="100" >2</text>
<text transform="matrix(0.56962 0 0 0.54506 685.54 983.40)" style='font-family:"Liberation Sans"' font-size="100" >3</text>
<text transform="matrix(0.53968 0 0 0.54506 862.66 983.40)" style='font-family:"Liberation Sans"' font-size="100" >4</text>
<text transform="matrix(0.53797 0 0 0.54506 1039.35 983.40)" style='font-family:"Liberation Sans"' font-size="100" >5</text>
<text transform="matrix(0.57484 0 0 0.54506 1215.57 983.40)" style='font-family:"Liberation Sans"' font-size="100" >6</text>
<path d="M351.30,983.60 l-5.12,0 l0,-27.76 c-2.76,-0.20 -5.71,-0.30 -9.65,-0.39 l0,-3.64 c4.92,-0.20 8.37,-2.17 10.24,-6.00 l4.53,0 z" fill="#000" />
<text transform="matrix(0.69708 0 0 0.69622 561.87 1063.00)" style='font-family:"Liberation Sans"' font-size="100" >Z</text>
<text transform="matrix(0.41111 0 0 0.75463 603.20 1067.02)" style='font-family:"Liberation Sans"' font-size="100" >'</text>
<text transform="matrix(0.53962 0 0 0.65880 629.85 1062.86)" style='font-family:"Liberation Sans"' font-size="100" >(</text>
<text transform="matrix(0.69955 0 0 0.69622 648.06 1063.00)" style='font-family:"Liberation Sans"' font-size="100" >M</text>
<text transform="matrix(0.80908 0 0 0.69486 703.69 1062.80)" style='font-family:"Liberation Serif"' font-size="100" >Ω</text>
<text transform="matrix(0.61343 0 0 0.61679 765.42 1062.68)" style='font-family:"Liberation Sans"' font-size="100" >c</text>
<text transform="matrix(0.66334 0 0 0.61338 796.32 1063.00)" style='font-family:"Liberation Sans"' font-size="100" >m</text>
<text transform="matrix(0.38596 0 0 0.37966 844.77 1030.70)" style='font-family:"Liberation Sans"' font-size="100" >2</text>
<text transform="matrix(0.52453 0 0 0.65021 867.89 1062.44)" style='font-family:"Liberation Sans"' font-size="100" >)</text>
<g transform="rotate(-90)">
<text transform="matrix(0.68978 0 0 0.66860 -625.01 66.80)" style='font-family:"Liberation Sans"' font-size="100" >Z</text>
<text transform="matrix(0.47584 0 0 0.77778 -584.25 74.01)" style='font-family:"Liberation Sans"' font-size="100" >&quot;</text>
<text transform="matrix(0.51698 0 0 0.66202 -545.81 68.40)" style='font-family:"Liberation Sans"' font-size="100" >(</text>
<text transform="matrix(0.69058 0 0 0.68314 -528.36 67.40)" style='font-family:"Liberation Sans"' font-size="100" >M</text>
<text transform="matrix(0.80282 0 0 0.70997 -472.97 67.60)" style='font-family:"Liberation Serif"' font-size="100" >Ω</text>
<text transform="matrix(0.64815 0 0 0.62956 -415.02 66.67)" style='font-family:"Liberation Sans"' font-size="100" >c</text>
<text transform="matrix(0.67618 0 0 0.63197 -385.16 67.30)" style='font-family:"Liberation Sans"' font-size="100" >m</text>
<text transform="matrix(0.39035 0 0 0.39255 -334.25 34.40)" style='font-family:"Liberation Sans"' font-size="100" >2</text>
<text transform="matrix(0.54717 0 0 0.66094 -310.63 68.42)" style='font-family:"Liberation Sans"' font-size="100" >)</text>
</g>
<text transform="matrix(0.38913 0 0 0.40116 696.06 284.50)" style='font-family:"Liberation Sans"' font-size="100" letter-spacing="-6.413" >Boundary</text>
<path d="M867.80,284.50 l-3.74,0 l0,-20.27 c-2.01,-0.14 -4.17,-0.22 -7.04,-0.29 l0,-2.66 c3.59,-0.14 6.11,-1.58 7.48,-4.38 l3.31,0 z" fill="#000" />
<text transform="matrix(0.37644 0 0 0.38808 689.61 542.50)" style='font-family:"Liberation Sans"' font-size="100" letter-spacing="-5.082" >Boundary</text>
<text transform="matrix(0.37342 0 0 0.38808 847.08 542.50)" style='font-family:"Liberation Sans"' font-size="100" >3</text>
<text transform="matrix(0.37926 0 0 0.39099 641.14 836.40)" style='font-family:"Liberation Sans"' font-size="100" letter-spacing="-4.906" >Boundary</text>
<text transform="matrix(0.35526 0 0 0.39099 798.22 836.40)" style='font-family:"Liberation Sans"' font-size="100" >2</text>
<rect x="885" y="130.3" width="376.4" height="749.7" fill="none" stroke="#222" stroke-width="2.7"/>
<rect x="935.8" y="185.8" width="19.0" height="19.0" fill="#000000"/>
<text transform="matrix(0.42989 0 0 0.45058 998.37 208.60)" style='font-family:"Liberation Sans"' font-size="100" >E</text>
<rect x="1037.3" y="192.10" width="20.9" height="3.2" fill="#000"/><rect x="1037.3" y="200.50" width="20.9" height="3.2" fill="#000"/>
<text transform="matrix(0.37448 0 0 0.45058 1068.84 208.60)" style='font-family:"Liberation Sans"' font-size="100" >0</text>
<text transform="matrix(0.39269 0 0 0.45058 1101.30 208.60)" style='font-family:"Liberation Sans"' font-size="100" >V</text>
<text transform="matrix(0.22922 0 0 0.24128 1127.25 222.90)" style='font-family:"Liberation Sans"' font-size="100" letter-spacing="0.684" >SCE</text>
<circle cx="945.3" cy="264.2" r="10.4" fill="#ff0000"/>
<text transform="matrix(0.42989 0 0 0.45058 998.37 277.70)" style='font-family:"Liberation Sans"' font-size="100" >E</text>
<rect x="1037.3" y="261.20" width="20.9" height="3.2" fill="#000"/><rect x="1037.3" y="269.60" width="20.9" height="3.2" fill="#000"/>
<text transform="matrix(0.37050 0 0 0.46269 1068.90 278.18)" style='font-family:"Liberation Sans"' font-size="100" >–</text>
<text transform="matrix(0.40552 0 0 0.45058 1085.92 277.70)" style='font-family:"Liberation Sans"' font-size="100" letter-spacing="-0.929" >0.25</text>
<text transform="matrix(0.41400 0 0 0.45058 1172.59 277.70)" style='font-family:"Liberation Sans"' font-size="100" >V</text>
<text transform="matrix(0.22922 0 0 0.24128 1199.45 292.00)" style='font-family:"Liberation Sans"' font-size="100" letter-spacing="1.992" >SCE</text>
<polygon points="945.3,318.1 958.6,340.7 932.0,340.7" fill="#1d33ff"/>
<text transform="matrix(0.42989 0 0 0.45058 998.37 346.80)" style='font-family:"Liberation Sans"' font-size="100" >E</text>
<rect x="1037.3" y="330.30" width="20.9" height="3.2" fill="#000"/><rect x="1037.3" y="338.70" width="20.9" height="3.2" fill="#000"/>
<text transform="matrix(0.37050 0 0 0.46269 1068.90 347.28)" style='font-family:"Liberation Sans"' font-size="100" >–</text>
<text transform="matrix(0.40552 0 0 0.45058 1085.92 346.80)" style='font-family:"Liberation Sans"' font-size="100" letter-spacing="-1.029" >0.30</text>
<text transform="matrix(0.41400 0 0 0.45058 1172.59 346.80)" style='font-family:"Liberation Sans"' font-size="100" >V</text>
<text transform="matrix(0.22922 0 0 0.24128 1199.45 361.10)" style='font-family:"Liberation Sans"' font-size="100" letter-spacing="1.992" >SCE</text>
<polygon points="945.3,417.2 958.6,394.6 932.0,394.6" fill="#1a966e"/>
<text transform="matrix(0.42989 0 0 0.45058 998.37 415.90)" style='font-family:"Liberation Sans"' font-size="100" >E</text>
<rect x="1037.3" y="399.40" width="20.9" height="3.2" fill="#000"/><rect x="1037.3" y="407.80" width="20.9" height="3.2" fill="#000"/>
<text transform="matrix(0.37050 0 0 0.46269 1068.90 416.38)" style='font-family:"Liberation Sans"' font-size="100" >–</text>
<text transform="matrix(0.40552 0 0 0.45058 1085.92 415.90)" style='font-family:"Liberation Sans"' font-size="100" letter-spacing="-1.029" >0.40</text>
<text transform="matrix(0.41400 0 0 0.45058 1172.59 415.90)" style='font-family:"Liberation Sans"' font-size="100" >V</text>
<text transform="matrix(0.22922 0 0 0.24128 1199.45 430.20)" style='font-family:"Liberation Sans"' font-size="100" letter-spacing="1.992" >SCE</text>
<polygon points="945.3,457.9 958.5,471.1 945.3,484.3 932.1,471.1" fill="#ac2bfd"/>
<text transform="matrix(0.42989 0 0 0.45058 998.37 485.00)" style='font-family:"Liberation Sans"' font-size="100" >E</text>
<rect x="1037.3" y="468.50" width="20.9" height="3.2" fill="#000"/><rect x="1037.3" y="476.90" width="20.9" height="3.2" fill="#000"/>
<text transform="matrix(0.37050 0 0 0.46269 1068.90 485.48)" style='font-family:"Liberation Sans"' font-size="100" >–</text>
<text transform="matrix(0.40552 0 0 0.45058 1085.92 485.00)" style='font-family:"Liberation Sans"' font-size="100" letter-spacing="-0.929" >0.45</text>
<text transform="matrix(0.41400 0 0 0.45058 1172.59 485.00)" style='font-family:"Liberation Sans"' font-size="100" >V</text>
<text transform="matrix(0.22922 0 0 0.24128 1199.45 499.30)" style='font-family:"Liberation Sans"' font-size="100" letter-spacing="1.992" >SCE</text>
<polygon points="930.2,540.0 952.8,526.9 952.8,553.1" fill="#658500"/>
<text transform="matrix(0.42989 0 0 0.45058 998.37 554.10)" style='font-family:"Liberation Sans"' font-size="100" >E</text>
<rect x="1037.3" y="537.60" width="20.9" height="3.2" fill="#000"/><rect x="1037.3" y="546.00" width="20.9" height="3.2" fill="#000"/>
<text transform="matrix(0.37050 0 0 0.46269 1068.90 554.58)" style='font-family:"Liberation Sans"' font-size="100" >–</text>
<text transform="matrix(0.40552 0 0 0.45058 1085.92 554.10)" style='font-family:"Liberation Sans"' font-size="100" letter-spacing="-1.029" >0.50</text>
<text transform="matrix(0.41400 0 0 0.45058 1172.59 554.10)" style='font-family:"Liberation Sans"' font-size="100" >V</text>
<text transform="matrix(0.22922 0 0 0.24128 1199.45 568.40)" style='font-family:"Liberation Sans"' font-size="100" letter-spacing="1.992" >SCE</text>
<polygon points="960.4,609.0 937.8,595.9 937.8,622.1" fill="#0000b0"/>
<text transform="matrix(0.42989 0 0 0.45058 998.37 623.20)" style='font-family:"Liberation Sans"' font-size="100" >E</text>
<rect x="1037.3" y="606.70" width="20.9" height="3.2" fill="#000"/><rect x="1037.3" y="615.10" width="20.9" height="3.2" fill="#000"/>
<text transform="matrix(0.37050 0 0 0.46269 1068.90 623.68)" style='font-family:"Liberation Sans"' font-size="100" >–</text>
<text transform="matrix(0.40552 0 0 0.45058 1085.92 623.20)" style='font-family:"Liberation Sans"' font-size="100" letter-spacing="-0.929" >0.55</text>
<text transform="matrix(0.41400 0 0 0.45058 1172.59 623.20)" style='font-family:"Liberation Sans"' font-size="100" >V</text>
<text transform="matrix(0.22922 0 0 0.24128 1199.45 637.50)" style='font-family:"Liberation Sans"' font-size="100" letter-spacing="1.992" >SCE</text>
<polygon points="945.3,666.5 955.3,672.2 955.3,683.7 945.3,689.5 935.3,683.7 935.3,672.2" fill="#690000"/>
<text transform="matrix(0.42989 0 0 0.45058 998.37 692.30)" style='font-family:"Liberation Sans"' font-size="100" >E</text>
<rect x="1037.3" y="675.80" width="20.9" height="3.2" fill="#000"/><rect x="1037.3" y="684.20" width="20.9" height="3.2" fill="#000"/>
<text transform="matrix(0.37050 0 0 0.46269 1068.90 692.78)" style='font-family:"Liberation Sans"' font-size="100" >–</text>
<text transform="matrix(0.40552 0 0 0.45058 1085.92 692.30)" style='font-family:"Liberation Sans"' font-size="100" letter-spacing="-1.029" >0.60</text>
<text transform="matrix(0.41400 0 0 0.45058 1172.59 692.30)" style='font-family:"Liberation Sans"' font-size="100" >V</text>
<text transform="matrix(0.22922 0 0 0.24128 1199.45 706.60)" style='font-family:"Liberation Sans"' font-size="100" letter-spacing="1.992" >SCE</text>
<polygon points="945.3,734.5 948.6,743.6 958.2,743.9 950.6,749.8 953.3,759.1 945.3,753.7 937.3,759.1 940.0,749.8 932.4,743.9 942.0,743.6" fill="#ff05d6"/>
<text transform="matrix(0.42989 0 0 0.45058 998.37 761.40)" style='font-family:"Liberation Sans"' font-size="100" >E</text>
<rect x="1037.3" y="744.90" width="20.9" height="3.2" fill="#000"/><rect x="1037.3" y="753.30" width="20.9" height="3.2" fill="#000"/>
<text transform="matrix(0.37050 0 0 0.46269 1068.90 761.88)" style='font-family:"Liberation Sans"' font-size="100" >–</text>
<text transform="matrix(0.40552 0 0 0.45058 1085.92 761.40)" style='font-family:"Liberation Sans"' font-size="100" letter-spacing="-0.929" >0.65</text>
<text transform="matrix(0.41400 0 0 0.45058 1172.59 761.40)" style='font-family:"Liberation Sans"' font-size="100" >V</text>
<text transform="matrix(0.22922 0 0 0.24128 1199.45 775.70)" style='font-family:"Liberation Sans"' font-size="100" letter-spacing="1.992" >SCE</text>
<polygon points="945.3,804.9 956.6,813.1 952.3,826.4 938.3,826.4 934.0,813.1" fill="#18a00a"/>
<text transform="matrix(0.42989 0 0 0.45058 998.37 830.50)" style='font-family:"Liberation Sans"' font-size="100" >E</text>
<rect x="1037.3" y="814.00" width="20.9" height="3.2" fill="#000"/><rect x="1037.3" y="822.40" width="20.9" height="3.2" fill="#000"/>
<text transform="matrix(0.37050 0 0 0.46269 1068.90 830.98)" style='font-family:"Liberation Sans"' font-size="100" >–</text>
<text transform="matrix(0.40552 0 0 0.45058 1085.92 830.50)" style='font-family:"Liberation Sans"' font-size="100" letter-spacing="-1.029" >0.70</text>
<text transform="matrix(0.41400 0 0 0.45058 1172.59 830.50)" style='font-family:"Liberation Sans"' font-size="100" >V</text>
<text transform="matrix(0.22922 0 0 0.24128 1199.45 844.80)" style='font-family:"Liberation Sans"' font-size="100" letter-spacing="1.992" >SCE</text>
</svg></body></html>
